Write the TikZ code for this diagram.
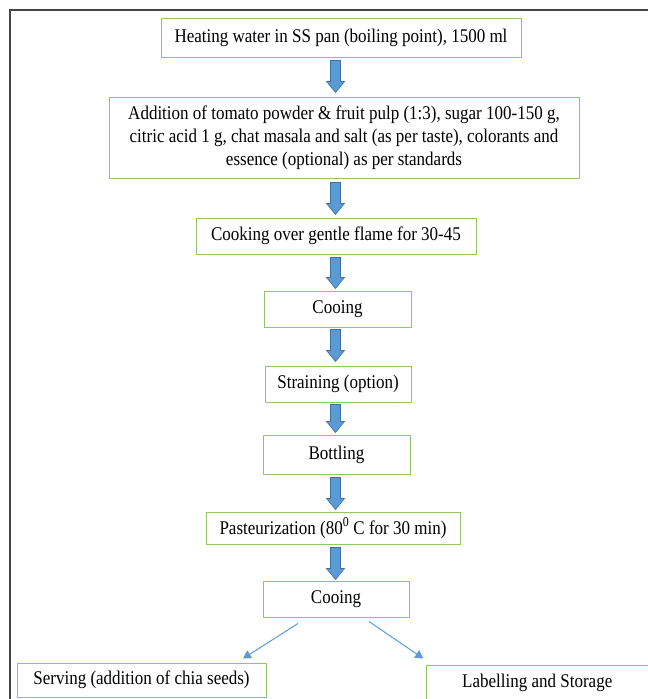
\documentclass[tikz,border=0pt]{standalone}
\usepackage{fontspec}
\usepackage{graphicx}
\setmainfont{Liberation Serif}
\usetikzlibrary{calc,arrows.meta}
\definecolor{boxgreen}{RGB}{146,198,106}
\definecolor{arrowblue}{RGB}{91,155,213}
\definecolor{arrowedge}{RGB}{65,113,156}
\definecolor{framegray}{RGB}{70,70,70}
\newcommand{\st}[1]{\scalebox{1}[1.14]{#1}}
\tikzset{
  stepbox/.style={draw=boxgreen, line width=1pt, fill=white, inner sep=0pt,
    font=\fontsize{17}{23}\selectfont, align=center, anchor=center},
  barrowstyle/.style={fill=arrowblue, draw=arrowedge, line width=0.6pt, line join=miter},
  thinarrow/.style={draw=arrowblue, line width=1pt, -{Triangle[width=9pt,length=8pt]}},
}
\newcommand{\barrow}[2]{%
  \filldraw[barrowstyle] let \p1=#1, \p2=#2 in
   (\x1-5pt,\y1) -- (\x1+5pt,\y1) -- (\x1+5pt,\y2+11pt) -- (\x1+9pt,\y2+11pt)
   -- (\x1,\y2) -- (\x1-9pt,\y2+11pt) -- (\x1-5pt,\y2+11pt) -- cycle;}
\begin{document}
\begin{tikzpicture}[x=1pt,y=-1pt]
\useasboundingbox (0,0) rectangle (648,699);
\clip (0,0) rectangle (648,699);
\fill[white] (0,0) rectangle (648,699);
% frame
\draw[framegray, line width=2pt] (10,720) -- (10,9.5) -- (670,9.5);
% boxes
\node[stepbox, minimum width=360pt, minimum height=39pt] (b1) at (341,37.5) {\st{Heating water in SS pan (boiling point), 1500 ml}};
\node[stepbox, minimum width=470pt, minimum height=81pt] (b2) at (344,137.5) {\st{Addition of tomato powder \& fruit pulp (1:3), sugar 100-150 g,}\\ \st{citric acid 1 g, chat masala and salt (as per taste), colorants and}\\ \st{essence (optional) as per standards}};
\node[stepbox, minimum width=280pt, minimum height=36pt] (b3) at (336,236) {\st{Cooking over gentle flame for 30-45}};
\node[stepbox, minimum width=147pt, minimum height=36pt] (b4) at (337.5,309) {\st{Cooing}};
\node[stepbox, minimum width=146pt, minimum height=36pt] (b5) at (338,384) {\st{Straining (option)}};
\node[stepbox, minimum width=147pt, minimum height=39pt] (b6) at (336.5,454.5) {\st{Bottling}};
\node[stepbox, minimum width=254pt, minimum height=32pt] (b7) at (333,528) {\st{Pasteurization (80\textsuperscript{0} C for 30 min)}};
\node[stepbox, minimum width=146pt, minimum height=36pt] (b8) at (336,599) {\st{Cooing}};
\node[stepbox, minimum width=249pt, minimum height=34pt] (b9) at (141.5,680) {\st{Serving (addition of chia seeds)}};
\node[stepbox, minimum width=222.5pt, minimum height=35pt] (b10) at (537.25,682.5) {\st{Labelling and Storage}};
% arrow axis
\coordinate (ax) at (335.5,0);
\barrow{($(b1.south -| ax)+(0,3)$)}{($(b2.north -| ax)+(0,-4)$)}
\barrow{($(b2.south -| ax)+(0,4)$)}{($(b3.north -| ax)+(0,-3)$)}
\barrow{($(b3.south -| ax)+(0,3)$)}{($(b4.north -| ax)+(0,-2)$)}
\barrow{($(b4.south -| ax)+(0,2)$)}{($(b5.north -| ax)+(0,-4)$)}
\barrow{($(b5.south -| ax)+(0,2)$)}{($(b6.north -| ax)+(0,-2)$)}
\barrow{($(b6.south -| ax)+(0,3)$)}{($(b7.north -| ax)+(0,-2)$)}
\barrow{($(b7.south -| ax)+(0,3)$)}{($(b8.north -| ax)+(0,-1)$)}
% thin arrows
\coordinate (sl) at ($(b8.south)+(-38,6)$);
\coordinate (sr) at ($(b8.south)+(33,4)$);
\draw[thinarrow] (sl) -- ($(b9.north)+(101.5,-4)$);
\draw[thinarrow] (sr) -- ($(b10.north)+(-114,-6)$);
\end{tikzpicture}
\end{document}
